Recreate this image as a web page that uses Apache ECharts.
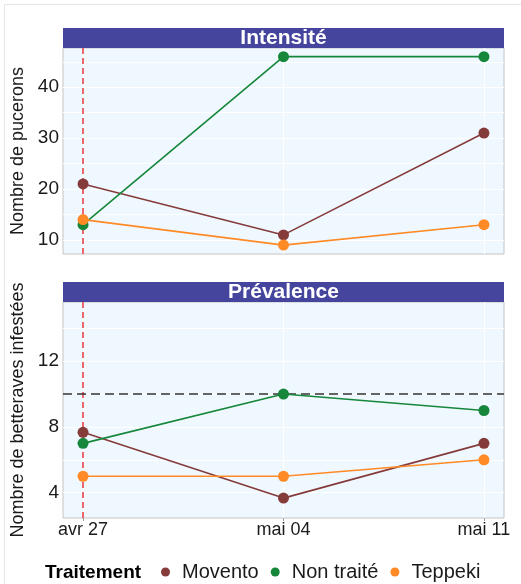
<!DOCTYPE html>
<html><head><meta charset="utf-8">
<script src="https://cdn.jsdelivr.net/npm/echarts@6/dist/echarts.min.js"></script>
<style>html,body{margin:0;padding:0;background:#fff}#c{width:521px;height:584px}</style>
</head><body><div id="c"></div>
<script>
const dates = ['avr 27', 'mai 04', 'mai 11'];
const dayOffsets = [0, 7, 14];
const treatments = ['Movento', 'Non traité', 'Teppeki'];
const colors = ['#863B3B', '#16873A', '#FF8A26'];
const intensiteMovento = [21, 11, 31];
const intensiteNonTraite = [13, 46, 46];
const intensiteTeppeki = [14, 9, 13];
const prevalenceMovento = [7.67, 3.67, 7];
const prevalenceNonTraite = [7, 10, 9];
const prevalenceTeppeki = [5, 5, 6];
const intensiteTicks = [10, 20, 30, 40];
const prevalenceTicks = [4, 8, 12];
const intensiteGrid = [10, 15, 20, 25, 30, 35, 40, 45];
const prevalenceGrid = [4, 6, 8, 10, 12, 14];
const seuilPrevalence = 10;

const FONT = 'Liberation Sans, Arial, Helvetica, sans-serif';
const chart = echarts.init(document.getElementById('c'), null, {renderer: 'canvas'});

const L = 63, R = 17, W = 521 - L - R;
const top1 = 48, h1 = 206, top2 = 302, h2 = 216;

function pts(vals) { return dayOffsets.map((d, i) => [d, vals[i]]); }

function xAxis(gi, showLabels) {
  return {
    type: 'value', gridIndex: gi, min: -0.7, max: 14.7,
    axisLine: {show: false},
    splitLine: {show: false},
    axisTick: {show: showLabels, customValues: dayOffsets, length: 3, lineStyle: {color: '#999'}},
    axisLabel: {show: showLabels, customValues: dayOffsets, margin: 3, fontSize: 18, color: '#1a1a1a', fontFamily: FONT,
      formatter: v => dates[dayOffsets.indexOf(Math.round(v))] || ''}
  };
}
function yAxis(gi, min, max, ticks, name) {
  return {
    type: 'value', gridIndex: gi, min: min, max: max,
    name: name, nameLocation: 'middle', nameGap: 33,
    nameTextStyle: {fontSize: 18, color: '#1a1a1a', fontFamily: FONT},
    axisLine: {show: false},
    splitLine: {show: false},
    axisTick: {show: true, customValues: ticks, length: 3, lineStyle: {color: '#999'}},
    axisLabel: {customValues: ticks, margin: 4, fontSize: 19, color: '#1a1a1a', fontFamily: FONT}
  };
}
function gridLines(gi, hvals, extra) {
  const data = [];
  hvals.forEach(v => data.push({yAxis: v, lineStyle: {color: '#ffffff', width: 1, type: 'solid'}}));
  dayOffsets.forEach(v => data.push({xAxis: v, lineStyle: {color: '#ffffff', width: 1, type: 'solid'}}));
  extra.forEach(e => data.push(e));
  return {
    type: 'line', xAxisIndex: gi, yAxisIndex: gi, data: [], silent: true, z: 1,
    markLine: {silent: true, symbol: 'none', label: {show: false}, animation: false, data: data}
  };
}
function lineSeries(gi, name, vals, color) {
  return {
    type: 'line', name: name, xAxisIndex: gi, yAxisIndex: gi, data: pts(vals),
    symbol: 'circle', symbolSize: 11, showSymbol: true, z: 5,
    lineStyle: {color: color, width: 1.6}, itemStyle: {color: color}
  };
}
const redLine = {xAxis: 0, lineStyle: {color: '#E8424A', width: 1.6, type: [6, 4]}};
const blackLine = {yAxis: seuilPrevalence, lineStyle: {color: '#333', width: 1.6, type: [9, 5]}};

chart.setOption({
  animation: false,
  textStyle: {fontFamily: FONT},
  grid: [
    {left: L, width: W, top: top1, height: h1, show: true, outerBoundsMode: 'none', containLabel: false, backgroundColor: '#F0F8FF', borderColor: '#c4c4c4', borderWidth: 1},
    {left: L, width: W, top: top2, height: h2, show: true, outerBoundsMode: 'none', containLabel: false, backgroundColor: '#F0F8FF', borderColor: '#c4c4c4', borderWidth: 1}
  ],
  xAxis: [xAxis(0, false), xAxis(1, true)],
  yAxis: [
    yAxis(0, 7.25, 47.7, intensiteTicks, 'Nombre de pucerons'),
    yAxis(1, 2.46, 15.6, prevalenceTicks, 'Nombre de betteraves infestées')
  ],
  legend: {
    left: 161, top: 562, padding: 0, itemGap: 12, itemWidth: 9, itemHeight: 9, icon: 'circle',
    data: treatments,
    textStyle: {fontSize: 20, color: '#1a1a1a', fontFamily: FONT, padding: [0, 0, 0, 7]}
  },
  graphic: [
    {type: 'rect', shape: {x: 4.5, y: 4.5, width: 600, height: 700}, style: {fill: 'none', stroke: '#e6e6e6', lineWidth: 1}, silent: true, z: -10},
    {type: 'rect', shape: {x: L, y: 28, width: W, height: 20}, style: {fill: '#45459E'}, z: 10},
    {type: 'text', x: L + W / 2, y: 38, style: {text: 'Intensité', fill: '#fff', font: 'bold 21px ' + FONT, textAlign: 'center', textVerticalAlign: 'middle'}, z: 11},
    {type: 'rect', shape: {x: L, y: 282, width: W, height: 20}, style: {fill: '#45459E'}, z: 10},
    {type: 'text', x: L + W / 2, y: 292, style: {text: 'Prévalence', fill: '#fff', font: 'bold 21px ' + FONT, textAlign: 'center', textVerticalAlign: 'middle'}, z: 11},
    {type: 'text', x: 45, y: 573, style: {text: 'Traitement', fill: '#000', font: 'bold 19px ' + FONT, textAlign: 'left', textVerticalAlign: 'middle'}, z: 11}
  ],
  series: [
    gridLines(0, intensiteGrid, [redLine]),
    gridLines(1, prevalenceGrid, [redLine, blackLine]),
    lineSeries(0, treatments[0], intensiteMovento, colors[0]),
    lineSeries(0, treatments[1], intensiteNonTraite, colors[1]),
    lineSeries(0, treatments[2], intensiteTeppeki, colors[2]),
    lineSeries(1, treatments[0], prevalenceMovento, colors[0]),
    lineSeries(1, treatments[1], prevalenceNonTraite, colors[1]),
    lineSeries(1, treatments[2], prevalenceTeppeki, colors[2])
  ]
});
</script></body></html>
